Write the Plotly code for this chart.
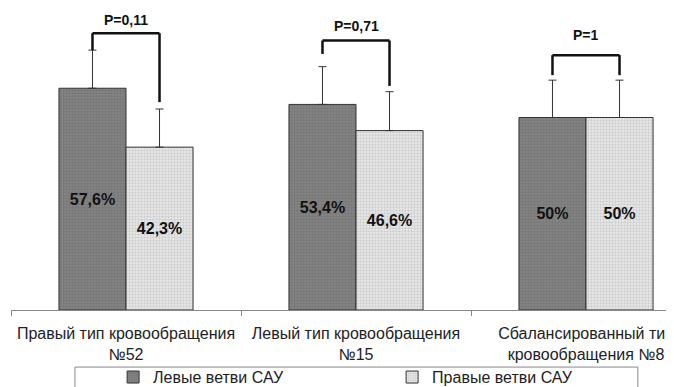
import plotly.graph_objects as go

categories = ["Правый тип кровообращения<br>№52",
              "Левый тип кровообращения<br>№15",
              "Сбалансированный тип<br>кровообращения №8"]
series_names = ["Левые ветви САУ", "Правые ветви САУ"]
left_values = [57.6, 53.4, 50.0]
right_values = [42.3, 46.6, 50.0]
left_err = [9.9, 9.8, 9.7]
right_err = [9.9, 10.1, 9.7]

p_labels = ["P=0,11", "P=0,71", "P=1"]
p_label_y = [75.2, 73.8, 71.5]
bracket_top = [71.9, 70.0, 66.2]
bracket_left_bottom = [67.5, 66.5, 61.0]
bracket_right_bottom = [54.0, 58.2, 61.0]

FONT = "Liberation Sans, Arial, sans-serif"
BARGAP = 0.417
OFF = (1 - BARGAP) / 4
PX_PER_UNIT = 3.85
PLOT_H = 302
PLOT_W = 663


def fmt(v):
    return f"{v:g}".replace(".", ",") + "%"


fig = go.Figure()
fig.add_trace(go.Bar(
    name=series_names[0], x=categories, y=left_values,
    text=[fmt(v) for v in left_values],
    textposition="inside", insidetextanchor="middle", textangle=0,
    textfont=dict(family=FONT, size=16, color="#111111", weight="bold"),
    marker=dict(color="#7c7c7c", line=dict(color="#333333", width=1),
                pattern=dict(shape=".", fgcolor="#6a6a6a", bgcolor="#858585", size=3, solidity=0.5)),
    error_y=dict(type="data", array=left_err, arrayminus=[0] * 3, symmetric=False,
                 color="#333333", thickness=1, width=4),
    hoverinfo="skip",
))
fig.add_trace(go.Bar(
    name=series_names[1], x=categories, y=right_values,
    text=[fmt(v) for v in right_values],
    textposition="inside", insidetextanchor="middle", textangle=0,
    textfont=dict(family=FONT, size=16, color="#111111", weight="bold"),
    marker=dict(color="#e0e0e0", line=dict(color="#333333", width=1),
                pattern=dict(shape=".", fgcolor="#b0b0b0", bgcolor="#ececec", size=3, solidity=0.5)),
    error_y=dict(type="data", array=right_err, arrayminus=[0] * 3, symmetric=False,
                 color="#333333", thickness=1, width=4),
    hoverinfo="skip",
))

shapes = []
annotations = []
for i in range(len(categories)):
    xl, xr = i - OFF, i + OFF
    ln = dict(color="#111111", width=2.5)
    shapes.append(dict(type="line", xref="x", yref="y", x0=xl, x1=xl,
                       y0=bracket_left_bottom[i], y1=bracket_top[i], line=ln))
    shapes.append(dict(type="line", xref="x", yref="y", x0=xl, x1=xr,
                       y0=bracket_top[i], y1=bracket_top[i], line=ln))
    shapes.append(dict(type="line", xref="x", yref="y", x0=xr, x1=xr,
                       y0=bracket_right_bottom[i], y1=bracket_top[i], line=ln))
    annotations.append(dict(x=i, y=p_label_y[i], xref="x", yref="y", text=p_labels[i],
                            showarrow=False, yanchor="middle",
                            font=dict(family=FONT, size=14, color="#111111", weight="bold")))

# legend frame
shapes.append(dict(type="rect", xref="paper", yref="paper", x0=0.0965, x1=0.9455,
                   y0=-0.32, y1=-0.189, line=dict(color="#888888", width=1),
                   fillcolor="rgba(0,0,0,0)", layer="below"))

fig.update_layout(
    width=666, height=379,
    margin=dict(l=3, r=0, t=0, b=379 - PLOT_H, autoexpand=False),
    paper_bgcolor="white", plot_bgcolor="white",
    barmode="group", bargap=BARGAP, bargroupgap=0,
    font=dict(family=FONT, size=16, color="#222222"),
    showlegend=True,
    legend=dict(orientation="h", x=0.154, xanchor="left", y=-0.166, yanchor="top",
                font=dict(family=FONT, size=16, color="#222222"),
                entrywidth=234, entrywidthmode="pixels",
                bgcolor="rgba(0,0,0,0)", borderwidth=0, tracegroupgap=0),
    shapes=shapes,
    annotations=annotations,
)
fig.update_xaxes(range=[-0.5, -0.5 + PLOT_W / 230], showline=True, linecolor="#888888", linewidth=1,
                 ticks="outside", tickson="boundaries", ticklen=5, tickcolor="#888888",
                 showgrid=False, tickfont=dict(family=FONT, size=16, color="#222222"),
                 ticklabelstandoff=9, automargin=False, fixedrange=True)
fig.update_yaxes(range=[0, PLOT_H / PX_PER_UNIT], visible=False, showgrid=False, fixedrange=True)

fig.write_html("out.html")
